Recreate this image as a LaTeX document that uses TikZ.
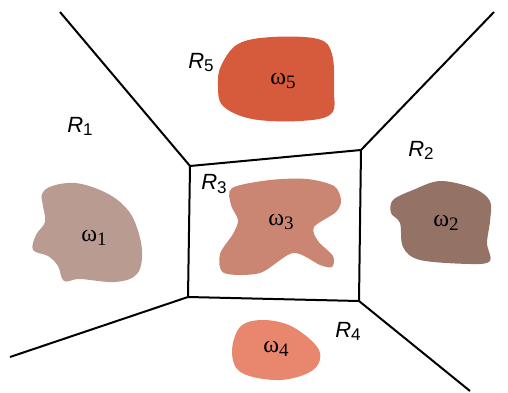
\documentclass[tikz,border=0pt]{standalone}
\usepackage{fontspec}
\setmainfont{Liberation Serif}
\setsansfont{Liberation Sans}
\newcommand{\regl}[1]{{\sffamily\itshape R}\raisebox{-0.3ex}{\sffamily\fontsize{17}{17}\selectfont #1}}
\newcommand{\oml}[1]{ω\raisebox{-0.3ex}{\fontsize{19}{19}\selectfont #1}}
\definecolor{cone}{RGB}{185,155,145}
\definecolor{ctwo}{RGB}{149,114,102}
\definecolor{cthree}{RGB}{202,134,115}
\definecolor{cfour}{RGB}{232,135,110}
\definecolor{cfive}{RGB}{214,90,60}
\tikzset{
  border/.style={line width=2pt, line join=round},
  rlab/.style={font=\fontsize{22}{22}\selectfont, inner sep=0pt},
  olab/.style={font=\fontsize{24}{24}\selectfont, inner sep=0pt}
}
\begin{document}
\begin{tikzpicture}[x=1pt,y=-1pt]
\useasboundingbox (0,0) rectangle (508,393);
% blobs
\fill[cfive] plot[smooth cycle, tension=0.6] coordinates {(221,66) (238,44) (272,37) (318,39) (332,54) (334,90) (331,114) (300,121) (252,119) (223,106) (218,86)};
\fill[cone] plot[smooth cycle, tension=0.6] coordinates {(42,194) (52,186) (75,183) (100,190) (120,202) (134,220) (142,250) (137,274) (115,282) (80,279) (64,281) (58,266) (48,256) (33,250) (36,235) (45,222) (43,206)};
\fill[cthree] plot[smooth cycle, tension=0.5] coordinates {(232,188) (270,180) (307,179) (334,186) (341,200) (336,212) (314,227) (318,241) (333,256) (332,267) (320,265) (293,253) (260,273) (224,273) (220,254) (233,234) (238,220) (231,205)};
\fill[ctwo] plot[smooth cycle, tension=0.55] coordinates {(393,200) (413,190) (440,181) (473,188) (490,201) (490,221) (487,243) (490,261) (470,264) (420,260) (403,247) (400,223) (391,213)};
\fill[cfour] plot[smooth cycle, tension=0.6] coordinates {(240,327) (263,320) (293,327) (319,350) (313,370) (280,380) (242,373) (232,353)};
% region boundaries
\coordinate (tl) at (190,166);
\coordinate (tr) at (361,150);
\coordinate (br) at (359,301);
\coordinate (bl) at (188,297);
\coordinate (etl) at (60,12);
\coordinate (etr) at (494,12);
\coordinate (ebl) at (10,357);
\coordinate (ebr) at (470,391);
\draw[border] (tl) -- (tr) -- (br) -- (bl) -- cycle;
\draw[border] (etl) -- (tl);
\draw[border] (etr) -- (tr);
\draw[border] (ebl) -- (bl);
\draw[border] (ebr) -- (br);
% labels
\node[rlab] (r1) at (80,126) {\regl{1}};
\node[rlab] (r2) at (421,150) {\regl{2}};
\node[rlab] (r3) at (214,184) {\regl{3}};
\node[rlab] (r4) at (348,331) {\regl{4}};
\node[rlab] (r5) at (201,63) {\regl{5}};
\node[olab] (o1) at (94,238) {\oml{1}};
\node[olab] (o2) at (446,223) {\oml{2}};
\node[olab] (o3) at (281,222) {\oml{3}};
\node[olab] (o4) at (276,349) {\oml{4}};
\node[olab] (o5) at (283,81) {\oml{5}};
\end{tikzpicture}
\end{document}
